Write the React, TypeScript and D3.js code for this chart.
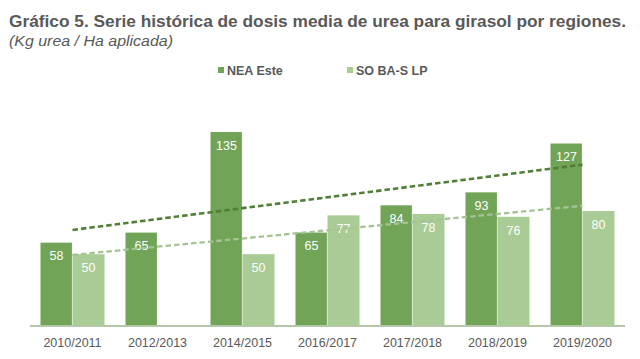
import React from "react";
import * as d3 from "d3";

const categories = ["2010/2011", "2012/2013", "2014/2015", "2016/2017", "2017/2018", "2018/2019", "2019/2020"];
const seriesNames = ["NEA Este", "SO BA-S LP"];
const neaEste: (number | null)[] = [58, 65, 135, 65, 84, 93, 127];
const soBaSLp: (number | null)[] = [50, null, 50, 77, 78, 76, 80];
const titleText = "Gráfico 5. Serie histórica de dosis media de urea para girasol por regiones.";
const subtitleText = "(Kg urea / Ha aplicada)";

const W = 640, H = 359;
const FONT = "'Liberation Sans', Arial, Helvetica, sans-serif";
const barColors = ["#71a456", "#a9cb95"];
const trendColors = ["#527f38", "#a5c394"];

function linReg(vals: (number | null)[]) {
  const pts = vals.map((v, i) => [i, v] as [number, number | null]).filter((p) => p[1] != null) as [number, number][];
  const mx = d3.mean(pts, (p) => p[0])!;
  const my = d3.mean(pts, (p) => p[1])!;
  const sxy = d3.sum(pts, (p) => (p[0] - mx) * (p[1] - my));
  const sxx = d3.sum(pts, (p) => (p[0] - mx) ** 2);
  const slope = sxy / sxx;
  const b = my - slope * mx;
  return (x: number) => b + slope * x;
}

export default function App() {
  const x0 = d3.scaleBand<string>().domain(categories).range([30, 625]).paddingInner(0).paddingOuter(0);
  const x1 = d3.scaleBand<string>().domain(seriesNames).range([0, x0.bandwidth()]).paddingInner(0).paddingOuter(0.328);
  const y = d3.scaleLinear().domain([0, 160]).range([326, 96.1]);
  const series = [neaEste, soBaSLp];

  const trends = series.map((s) => {
    const f = linReg(s);
    const pts: [number, number][] = [0, categories.length - 1].map((i) => [x0(categories[i])! + x0.bandwidth() / 2, y(f(i))]);
    return d3.line()(pts)!;
  });

  return (
    <svg width={W} height={H} style={{ position: "absolute", left: 0, top: 0, background: "#fff" }} fontFamily={FONT}>
      <rect width={W} height={H} fill="#fff" />
      <text x={9} y={27} fontSize={16} fontWeight="bold" fill="#595959" textLength={617} lengthAdjust="spacingAndGlyphs">{titleText}</text>
      <text x={9} y={45.5} fontSize={14} fontStyle="italic" fill="#595959" textLength={164} lengthAdjust="spacingAndGlyphs">{subtitleText}</text>

      {/* legend */}
      {seriesNames.map((n, i) => {
        const lx = [218, 347][i];
        return (
          <g key={n}>
            <rect x={lx} y={67} width={6} height={6} fill={barColors[i]} />
            <text x={lx + 9} y={74.5} fontSize={12.5} fontWeight="bold" fill="#595959">{n}</text>
          </g>
        );
      })}

      {/* bars */}
      {series.map((s, si) =>
        s.map((v, ci) =>
          v == null ? null : (
            <rect key={`b${si}-${ci}`} x={x0(categories[ci])! + x1(seriesNames[si])!} y={y(v)} width={x1.bandwidth() - (si === 0 ? 0.6 : 0)} height={y(0) - y(v)} fill={barColors[si]} />
          )
        )
      )}

      {/* value labels */}
      {series.map((s, si) =>
        s.map((v, ci) =>
          v == null ? null : (
            <text key={`l${si}-${ci}`} x={x0(categories[ci])! + x1(seriesNames[si])! + x1.bandwidth() / 2} y={y(v) + 17.8} fontSize={12.5} fill="#fff" textAnchor="middle">{v}</text>
          )
        )
      )}

      {/* axis line */}
      <line x1={30} x2={625} y1={y(0)} y2={y(0)} stroke="#b3c8a6" strokeWidth={2} />

      {/* category labels */}
      {categories.map((c) => (
        <text key={c} x={x0(c)! + x0.bandwidth() / 2} y={346.5} fontSize={12.5} fill="#595959" textAnchor="middle">{c}</text>
      ))}

      {/* trend lines */}
      {trends.map((d, i) => (
        <path key={`t${i}`} d={d} fill="none" stroke={trendColors[i]} strokeWidth={i === 0 ? 2.6 : 2.3} strokeDasharray="5.5,3" />
      ))}
    </svg>
  );
}
